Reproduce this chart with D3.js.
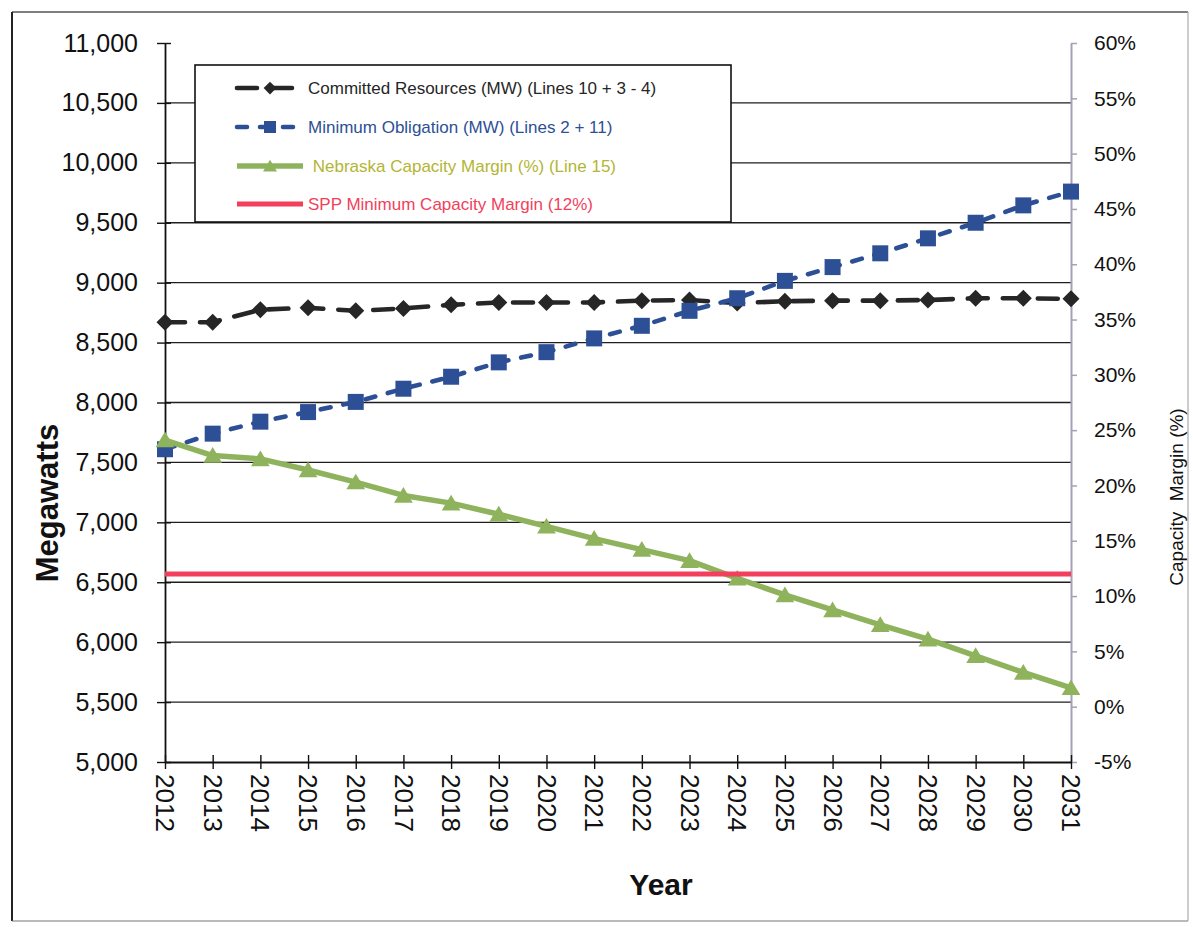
<!DOCTYPE html>
<html>
<head>
<meta charset="utf-8">
<script src="https://cdn.jsdelivr.net/npm/d3@7"></script>
<style>
  body { margin: 0; background: #fff; }
  svg { display: block; font-family: "Liberation Sans", Arial, sans-serif; }
</style>
</head>
<body>
<svg id="chart" width="1193" height="927"></svg>
<script>
// ---- data -------------------------------------------------------------
const years = [2012, 2013, 2014, 2015, 2016, 2017, 2018, 2019, 2020, 2021,
               2022, 2023, 2024, 2025, 2026, 2027, 2028, 2029, 2030, 2031];

// Committed Resources (MW) (Lines 10 + 3 - 4)
const committedMW = [8670, 8670, 8775, 8790, 8765, 8785, 8815, 8835, 8835, 8835,
                     8850, 8855, 8830, 8845, 8850, 8850, 8855, 8870, 8870, 8865];

// Minimum Obligation (MW) (Lines 2 + 11)
const obligationMW = [7610, 7740, 7840, 7920, 8005, 8115, 8215, 8335, 8420, 8535,
                      8640, 8765, 8870, 9015, 9130, 9245, 9370, 9500, 9645, 9760];

// Nebraska Capacity Margin (%) (Line 15)
const nebraskaPct = [24.1, 22.7, 22.4, 21.4, 20.3, 19.1, 18.4, 17.4, 16.3, 15.2,
                     14.2, 13.2, 11.6, 10.1, 8.75, 7.4, 6.1, 4.6, 3.1, 1.7];

// SPP Minimum Capacity Margin (12%)
const sppPct = [12, 12, 12, 12, 12, 12, 12, 12, 12, 12,
                12, 12, 12, 12, 12, 12, 12, 12, 12, 12];

const mwTicks = [5000, 5500, 6000, 6500, 7000, 7500, 8000, 8500, 9000, 9500, 10000, 10500, 11000];
const pctTicks = [-5, 0, 5, 10, 15, 20, 25, 30, 35, 40, 45, 50, 55, 60];

const legendLabels = [
  "Committed Resources (MW) (Lines 10 + 3 - 4)",
  "Minimum Obligation (MW) (Lines 2 + 11)",
  " Nebraska Capacity Margin (%) (Line 15)",
  "SPP Minimum Capacity Margin (12%)"
];

// ---- layout -----------------------------------------------------------
const plot = { left: 165, right: 1071, top: 43, bottom: 762 };
const svg = d3.select("#chart");

const x = d3.scalePoint().domain(years).range([plot.left, plot.right]);
const yL = d3.scaleLinear().domain([5000, 11000]).range([plot.bottom, plot.top]);
const yR = d3.scaleLinear().domain([-5, 60]).range([plot.bottom, plot.top]);

const colors = {
  committed: "#262626",
  obligation: "#2d4f95",
  nebraska: "#8fb35c",
  spp: "#f23f5c",
  nebraskaText: "#b3b534",
  rightAxis: "#a89fb6"
};

// outer frame
const frame = svg.append("g");
frame.append("line").attr("x1", 12).attr("x2", 1188).attr("y1", 12).attr("y2", 12)
  .attr("stroke", "#555").attr("stroke-width", 1.5);
frame.append("line").attr("x1", 12).attr("x2", 12).attr("y1", 12).attr("y2", 921)
  .attr("stroke", "#222").attr("stroke-width", 2);
frame.append("line").attr("x1", 12).attr("x2", 1188).attr("y1", 921).attr("y2", 921)
  .attr("stroke", "#777").attr("stroke-width", 1.2);
frame.append("line").attr("x1", 1188).attr("x2", 1188).attr("y1", 12).attr("y2", 921)
  .attr("stroke", "#aaa").attr("stroke-width", 1.2);

// horizontal gridlines at every major MW tick
svg.append("g")
  .selectAll("line")
  .data(mwTicks.filter(d => d > 5000 && d < 11000))
  .join("line")
  .attr("x1", plot.left).attr("x2", plot.right)
  .attr("y1", d => yL(d)).attr("y2", d => yL(d))
  .attr("stroke", "#1e1e1e").attr("stroke-width", 1.3);

// legend box (sits above gridlines, below the data)
const legend = svg.append("g");
legend.append("rect")
  .attr("x", 195).attr("y", 65).attr("width", 536).attr("height", 157)
  .attr("fill", "#fff").attr("stroke", "#111").attr("stroke-width", 1.6);

// ---- axes -------------------------------------------------------------
const axisLeft = svg.append("g")
  .attr("transform", `translate(${plot.left},0)`)
  .call(d3.axisLeft(yL).tickValues(mwTicks).tickFormat(d3.format(","))
        .tickSizeInner(8).tickSizeOuter(0).tickPadding(19));
axisLeft.select(".domain").attr("stroke", "#111").attr("stroke-width", 1.8);
axisLeft.selectAll(".tick line").attr("x1", 6).attr("stroke", "#111").attr("stroke-width", 1.4);
axisLeft.selectAll(".tick text").attr("font-size", 25).attr("fill", "#111");

const axisRight = svg.append("g")
  .attr("transform", `translate(${plot.right},0)`)
  .call(d3.axisRight(yR).tickValues(pctTicks).tickFormat(d => d + "%")
        .tickSizeInner(6).tickSizeOuter(0).tickPadding(17));
axisRight.select(".domain").attr("stroke", colors.rightAxis).attr("stroke-width", 2);
axisRight.selectAll(".tick line").attr("stroke", colors.rightAxis).attr("stroke-width", 1.5);
axisRight.selectAll(".tick text").attr("font-size", 21).attr("fill", "#111");

const axisBottom = svg.append("g")
  .attr("transform", `translate(0,${plot.bottom})`)
  .call(d3.axisBottom(x).tickSizeInner(7).tickSizeOuter(0));
axisBottom.select(".domain").attr("stroke", "#111").attr("stroke-width", 1.8);
axisBottom.selectAll(".tick line").attr("y1", -7).attr("stroke", "#111").attr("stroke-width", 1.4);
axisBottom.selectAll(".tick text")
  .attr("font-size", 26).attr("fill", "#111")
  .attr("transform", "rotate(90)")
  .attr("x", 12).attr("y", 0).attr("dy", "0.36em")
  .attr("text-anchor", "start");

// axis titles
svg.append("text")
  .attr("transform", "translate(58,503) rotate(-90)")
  .attr("text-anchor", "middle").attr("font-size", 31).attr("font-weight", "bold")
  .attr("fill", "#111").text("Megawatts");

svg.append("text")
  .attr("transform", "translate(1183,497) rotate(-90)")
  .attr("text-anchor", "middle").attr("font-size", 19).attr("fill", "#111")
  .style("white-space", "pre").text("Capacity  Margin (%)");

svg.append("text")
  .attr("x", 661).attr("y", 895)
  .attr("text-anchor", "middle").attr("font-size", 30).attr("font-weight", "bold")
  .attr("fill", "#111").text("Year");

// ---- marker shapes ----------------------------------------------------
const diamondPath = r => `M0,${-r}L${r},0L0,${r}L${-r},0Z`;
const squarePath = r => `M${-r},${-r}H${r}V${r}H${-r}Z`;
const trianglePath = r => `M0,${-r}L${r * 1.1},${r * 0.85}L${-r * 1.1},${r * 0.85}Z`;

// ---- series -----------------------------------------------------------
const series = [
  { key: "committed", values: committedMW, scale: yL, color: colors.committed,
    width: 4.6, dash: "20,15", marker: diamondPath, r: 8.5 },
  { key: "obligation", values: obligationMW, scale: yL, color: colors.obligation,
    width: 4.6, dash: "10,13", marker: squarePath, r: 8 },
  { key: "nebraska", values: nebraskaPct, scale: yR, color: colors.nebraska,
    width: 5.5, dash: null, marker: trianglePath, r: 8.5 },
  { key: "spp", values: sppPct, scale: yR, color: colors.spp,
    width: 5, dash: null, marker: null, r: 0 }
];

series.forEach(s => {
  const pts = years.map((yr, i) => [x(yr), s.scale(s.values[i])]);
  svg.append("path")
    .datum(pts)
    .attr("d", d3.line())
    .attr("fill", "none")
    .attr("stroke", s.color)
    .attr("stroke-width", s.width)
    .attr("stroke-linecap", s.dash ? "round" : "butt")
    .attr("stroke-linejoin", "round")
    .attr("stroke-dasharray", s.dash);
  if (s.marker) {
    svg.append("g")
      .selectAll("path")
      .data(pts)
      .join("path")
      .attr("transform", d => `translate(${d[0]},${d[1]})`)
      .attr("d", s.marker(s.r))
      .attr("fill", s.color);
  }
});

// ---- legend entries ---------------------------------------------------
const legendRows = [88, 127, 166, 204];
const legendText = [colors.committed, colors.obligation, colors.nebraskaText, colors.spp];
series.forEach((s, i) => {
  const ry = legendRows[i];
  legend.append("line")
    .attr("x1", 237).attr("x2", 303).attr("y1", ry).attr("y2", ry)
    .attr("stroke", s.color).attr("stroke-width", s.width)
    .attr("stroke-linecap", s.dash ? "round" : "butt")
    .attr("stroke-dasharray", s.dash);
  if (s.marker) {
    legend.append("path")
      .attr("transform", `translate(270,${ry})`)
      .attr("d", s.marker(s.r * 0.75))
      .attr("fill", s.color);
  }
  legend.append("text")
    .attr("x", 308).attr("y", ry).attr("dy", "0.36em")
    .attr("font-size", 17).attr("fill", legendText[i])
    .style("white-space", "pre")
    .text(legendLabels[i]);
});
</script>
</body>
</html>
